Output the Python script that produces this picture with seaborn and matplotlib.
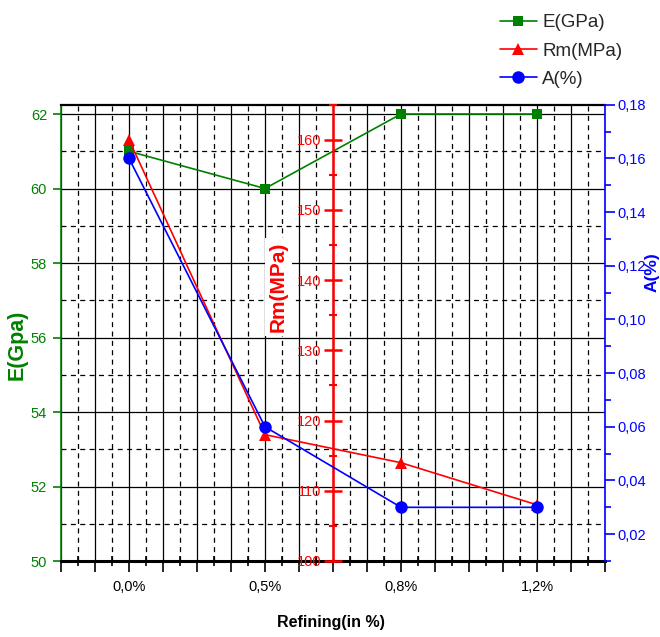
import numpy as np
import pandas as pd
import matplotlib
matplotlib.use('Agg')
import matplotlib.pyplot as plt
import seaborn as sns
from matplotlib.ticker import MultipleLocator, FuncFormatter

# ---- data ----
categories = ['0,0%', '0,5%', '0,8%', '1,2%']
e_gpa = [61, 60, 62, 62]
rm_mpa = [160, 118, 114, 108]
a_pct = [0.16, 0.06, 0.03, 0.03]
series_labels = ['E(GPa)', 'Rm(MPa)', 'A(%)']

GREEN = '#008000'
RED = '#ff0000'
BLUE = '#0000ff'

sns.set_theme(style='white')
FONT = ['Liberation Sans', 'DejaVu Sans']
plt.rcParams['font.family'] = FONT

df = pd.DataFrame({'pos': np.arange(1, len(categories) + 1),
                   'E': e_gpa, 'Rm': rm_mpa, 'A': a_pct})

W, H = 660, 637
fig = plt.figure(figsize=(W / 100, H / 100), dpi=100)
L, R, T, B = 61, 605, 104.7, 561
ax = fig.add_axes([L / W, 1 - B / H, (R - L) / W, (B - T) / H])
ax_rm = ax.twinx()
ax_a = ax.twinx()

TICK_FS = 10.5

# ---- main (E) axis ----
sns.lineplot(data=df, x='pos', y='E', ax=ax, color=GREEN, marker='s',
             markersize=7.5, markeredgewidth=0, linewidth=1.2, legend=False)
ax.set_xlim(0.5, 4.5)
ax.set_ylim(50, 62.25)
ax.xaxis.set_major_locator(MultipleLocator(0.25))
ax.xaxis.set_minor_locator(MultipleLocator(0.125))
ax.yaxis.set_major_locator(MultipleLocator(2))
ax.yaxis.set_minor_locator(MultipleLocator(1))


def xfmt(v, p):
    i = int(round(v))
    if abs(v - i) < 1e-6 and 1 <= i <= len(categories):
        return categories[i - 1]
    return ''


ax.xaxis.set_major_formatter(FuncFormatter(xfmt))
ax.yaxis.set_major_formatter(FuncFormatter(lambda v, p: f'{v:.0f}'))
ax.set_axisbelow(True)
ax.grid(which='major', color='black', linewidth=0.9, linestyle='-')
ax.grid(which='minor', color='black', linewidth=0.9, linestyle=(0, (4, 3.5)))
ax.set_xlabel('')
ax.set_ylabel('')
ax.tick_params(axis='x', which='major', direction='out', length=8, width=1.2,
               colors='black', labelsize=TICK_FS, pad=6, bottom=True)
ax.tick_params(axis='x', which='minor', direction='inout', length=7, width=1.2,
               colors='black', bottom=True)
ax.tick_params(axis='y', which='major', direction='out', length=6, width=1.2,
               colors=GREEN, labelsize=TICK_FS, pad=4, left=True)
ax.tick_params(axis='y', which='minor', left=False)
ax.spines['right'].set_visible(False)
ax.spines['left'].set_color(GREEN)
ax.spines['left'].set_linewidth(1.2)
ax.spines['bottom'].set_color('black')
ax.spines['bottom'].set_linewidth(2.2)
ax.spines['top'].set_color('black')
ax.spines['top'].set_linewidth(1.6)

# ---- Rm axis (middle, red) ----
sns.lineplot(data=df, x='pos', y='Rm', ax=ax_rm, color=RED, marker='^',
             markersize=9, markeredgewidth=0, linewidth=1.2, legend=False)
ax_rm.set_ylim(100, 165)
ax_rm.yaxis.set_major_locator(MultipleLocator(10))
ax_rm.yaxis.set_minor_locator(MultipleLocator(5))
ax_rm.yaxis.set_ticks_position('left')
ax_rm.yaxis.set_label_position('left')
for s in ['right', 'top', 'bottom']:
    ax_rm.spines[s].set_visible(False)
ax_rm.spines['left'].set_visible(True)
ax_rm.spines['left'].set_position(('axes', 0.5))
ax_rm.spines['left'].set_color(RED)
ax_rm.spines['left'].set_linewidth(1.8)
ax_rm.tick_params(axis='y', which='major', direction='inout', length=13,
                  width=1.8, colors=RED, labelsize=TICK_FS, pad=2)
ax_rm.tick_params(axis='y', which='minor', direction='inout', length=6,
                  width=1.5, colors=RED)
ax_rm.set_ylabel('')
ax_rm.set_xlabel('')
ax_rm.grid(False)
ax_rm.text((278.5 - L) / (R - L), (B - 287) / (B - T), 'Rm(MPa)',
           transform=ax_rm.transAxes, rotation=90,
           ha='center', va='center', color=RED, fontweight='bold',
           fontsize=15, bbox=dict(facecolor='white', edgecolor='none', pad=3))

# ---- A axis (right, blue) ----
sns.lineplot(data=df, x='pos', y='A', ax=ax_a, color=BLUE, marker='o',
             markersize=9, markeredgewidth=0, linewidth=1.2, legend=False)
ax_a.set_ylim(0.01, 0.18)
ax_a.yaxis.set_major_locator(MultipleLocator(0.02))
ax_a.yaxis.set_minor_locator(MultipleLocator(0.01))
ax_a.yaxis.set_major_formatter(FuncFormatter(lambda v, p: f'{v:.2f}'.replace('.', ',')))
for s in ['left', 'top', 'bottom']:
    ax_a.spines[s].set_visible(False)
ax_a.spines['right'].set_color(BLUE)
ax_a.spines['right'].set_linewidth(1.2)
ax_a.tick_params(axis='y', which='major', direction='out', length=7, width=1.2,
                 colors=BLUE, labelsize=TICK_FS, pad=2, right=True)
ax_a.tick_params(axis='y', which='minor', direction='out', length=4, width=1.2,
                 colors=BLUE, right=True)
ax_a.set_ylabel('')
ax_a.set_xlabel('')
ax_a.grid(False)

# ---- axis titles ----
ax.text((17.5 - L) / (R - L), (B - 345) / (B - T), 'E(Gpa)', transform=ax.transAxes,
        rotation=90, ha='center', va='center', color=GREEN, fontweight='bold',
        fontsize=15.5)
ax.text((652.5 - L) / (R - L), (B - 272) / (B - T), 'A(%)', transform=ax.transAxes,
        rotation=90, ha='center', va='center', color=BLUE, fontweight='bold',
        fontsize=12.5)
ax.text((331 - L) / (R - L), (B - 622) / (B - T), 'Refining(in %)', transform=ax.transAxes,
        ha='center', va='center', color='black', fontweight='bold',
        fontsize=11.5)

# ---- legend ----
handles = [ax.lines[0], ax_rm.lines[0], ax_a.lines[0]]
fig.legend(handles, series_labels, loc='upper left',
           bbox_to_anchor=(500 / W, 1 - 14 / H), frameon=False, fontsize=13.5,
           handlelength=1.95, handletextpad=0.3, labelspacing=0.6,
           borderpad=0, borderaxespad=0, numpoints=1)

fig.savefig('out.png', dpi=100)
